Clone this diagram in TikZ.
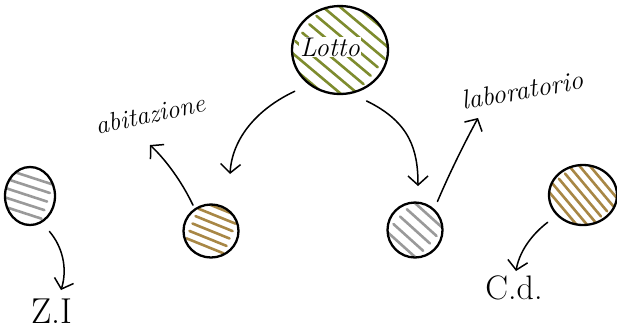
\documentclass[tikz,border=0pt]{standalone}
\usepackage{fontspec}
\usetikzlibrary{shapes.geometric,arrows.meta,calc}
\definecolor{hgreen}{HTML}{7E8C2E}
\definecolor{hbrown}{HTML}{A88745}
\definecolor{hgray}{HTML}{9A9A9A}
\newcommand{\myhatch}[6]{% color, angle, spacing, from, to, k-range
  \foreach \k in {#6}{
    \draw[#1,line width=2.6pt,line cap=round]
      ($(path picture bounding box.center)+(#2:#4)+(#2+90:\k*#3)$) --
      ($(path picture bounding box.center)+(#2:#5)+(#2+90:\k*#3)$);
  }}
\begin{document}
\begin{tikzpicture}[x=1pt,y=-1pt,
  blob/.style={ellipse, draw=black, line width=2.3pt, inner sep=0pt},
  conn/.style={line width=1.5pt, line cap=round,
     -{Straight Barb[length=9pt,width=20pt,line width=1.5pt]}},
  lbl/.style={font=\itshape, inner sep=0pt},
  tag/.style={inner sep=0pt},
]
\useasboundingbox (0,0) rectangle (617,333);

% nodes
\node[blob, minimum width=96pt, minimum height=88pt,
  path picture={\myhatch{hgreen}{40}{11}{-40}{40}{-4,...,4}}] (lotto) at (340,50) {};
\node[lbl, font=\itshape\fontsize{27}{27}\selectfont, fill=white, inner sep=1pt] (lottotxt) at (330,47) {Lotto};

\node[blob, minimum width=55pt, minimum height=53pt,
  path picture={\myhatch{hbrown}{22}{8}{-20}{20}{-3,...,2}}] (midl) at (211,231) {};
\node[blob, minimum width=55pt, minimum height=55pt,
  path picture={\myhatch{hgray}{42}{10}{-20}{20}{-2,...,2}}] (midr) at (415,230) {};
\node[blob, minimum width=50pt, minimum height=58pt,
  path picture={\myhatch{hgray}{18}{9}{-30}{18}{-2,...,2}}] (zi) at (30,196) {};
\node[blob, minimum width=68pt, minimum height=60pt,
  path picture={\myhatch{hbrown}{50}{8}{-28}{28}{-3,...,3}}] (cd) at (583,195) {};

% labels
\node[lbl, font=\itshape\fontsize{26}{26}\selectfont, rotate=12] (abit) at (150,114) {abitazione};
\node[lbl, font=\itshape\fontsize{27}{27}\selectfont, rotate=10] (lab) at (522,90) {laboratorio};
\node[tag, font=\fontsize{36}{36}\selectfont] (zitxt) at (52,311) {Z.I};
\node[tag, font=\fontsize{34}{34}\selectfont] (cdtxt) at (514,288) {C.d.};

% free ends of the arrows
\coordinate (tipl) at (230,174);
\coordinate (tipr) at (418,186);
\coordinate (tipabit) at (150,145);
\coordinate (tiplab) at (478,118);
\coordinate (tipzi) at (61,290);
\coordinate (tipcd) at (516,271);

% connectors
\draw[conn] ($(lotto.225)+(-12,8)$) .. controls (255,110) and (232,140) .. (tipl);
\draw[conn] ($(lotto.305)+(0,13)$) .. controls (410,122) and (418,150) .. (tipr);
\draw[conn] ($(midl.125)+(-2,-3)$) .. controls (182,182) and (166,160) .. (tipabit);
\draw[conn] ($(midr.55)+(6,-5)$) .. controls (450,172) and (465,142) .. (tiplab);
\draw[conn] ($(zi.305)+(3,12)$) .. controls (62,246) and (68,268) .. (tipzi);
\draw[conn] ($(cd.225)+(-12,4)$) .. controls (536,231) and (520,248) .. (tipcd);
\end{tikzpicture}
\end{document}
